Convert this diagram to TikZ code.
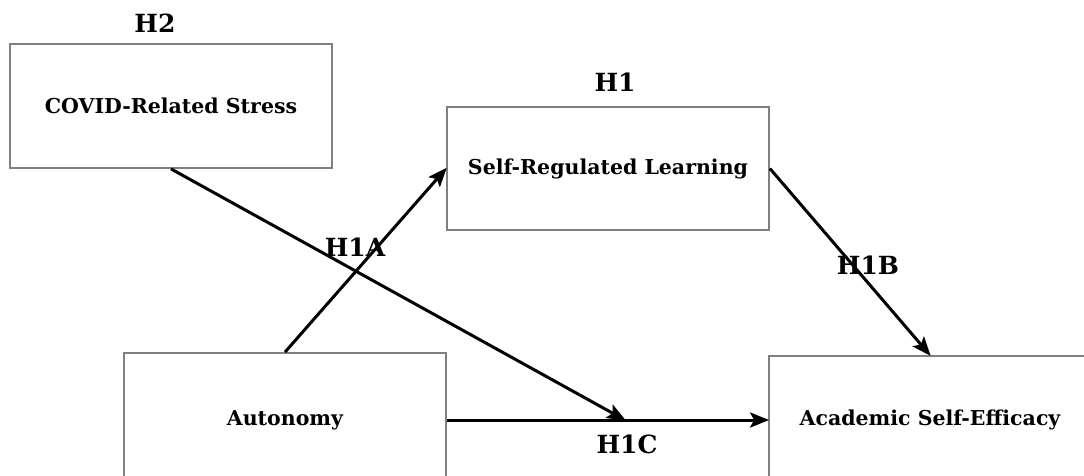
\documentclass[tikz,border=0pt]{standalone}
\usepackage{fontspec}
\setmainfont{DejaVu Serif}
\usetikzlibrary{arrows.meta}
\begin{document}
\begin{tikzpicture}[x=1pt,y=-1pt,
  box/.style={draw=black!50,line width=1.8pt,rectangle,minimum width=322pt,inner sep=0pt,font=\fontsize{20.5}{24}\selectfont\bfseries},
  hyp/.style={font=\fontsize{25}{28}\selectfont\bfseries,inner sep=0pt},
  conn/.style={line width=3pt,-{Stealth[length=19pt,width=15pt,inset=4pt]},shorten >=-1pt}]
\useasboundingbox (0,0) rectangle (1084,475);
\clip (0,0) rectangle (1084,475);
\fill[white] (0,0) rectangle (1084,475);
\node[box,minimum height=124pt] (covid) at (171,106) {COVID-Related Stress};
\node[box,minimum height=123pt] (srl) at (608,168.5) {Self-Regulated Learning};
\node[box,minimum height=134pt] (aut) at (285,420) {\raisebox{2pt}{Autonomy}};
\node[box,minimum height=128pt] (ase) at (930,420) {\raisebox{2pt}{Academic Self-Efficacy}};
\coordinate (c1) at (625,420);
\draw[conn] (aut.east) -- (ase.west);
\draw[conn] (aut.north) -- (srl.west);
\draw[conn] (srl.east) -- (ase.north);
\draw[conn] (covid.south) -- (c1);
\node[hyp] (h2) at (155,23) {H2};
\node[hyp] (h1) at (615,82) {H1};
\node[hyp] (h1a) at (355,247) {H1A};
\node[hyp] (h1b) at (868,265) {H1B};
\node[hyp] (h1c) at (627,444) {H1C};
\end{tikzpicture}
\end{document}
